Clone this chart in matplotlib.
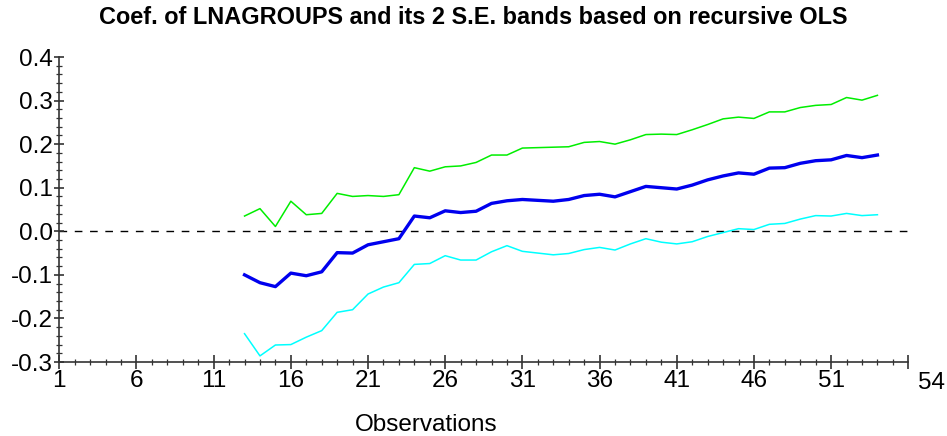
import matplotlib
matplotlib.use("Agg")
import matplotlib.pyplot as plt
from matplotlib.ticker import FixedLocator, MultipleLocator

plt.rcParams['font.family'] = ['Liberation Sans', 'DejaVu Sans']

# Recursive OLS estimates of the LNAGROUPS coefficient, observations 13..54
obs = list(range(13, 55))
coef = [-0.100, -0.118, -0.127, -0.096, -0.102, -0.093, -0.049, -0.050, -0.031, -0.024,
        -0.017, 0.035, 0.031, 0.047, 0.043, 0.046, 0.064, 0.070, 0.073, 0.071,
        0.069, 0.073, 0.082, 0.085, 0.079, 0.091, 0.103, 0.100, 0.097, 0.106,
        0.118, 0.127, 0.134, 0.131, 0.145, 0.146, 0.156, 0.162, 0.164, 0.174,
        0.169, 0.175]
upper = [0.035, 0.052, 0.011, 0.069, 0.038, 0.041, 0.087, 0.080, 0.082, 0.080,
         0.084, 0.146, 0.138, 0.148, 0.150, 0.158, 0.175, 0.175, 0.191, 0.192,
         0.193, 0.194, 0.204, 0.206, 0.200, 0.210, 0.222, 0.223, 0.222, 0.233,
         0.245, 0.258, 0.262, 0.259, 0.274, 0.274, 0.284, 0.289, 0.291, 0.307,
         0.301, 0.312]
lower = [-0.235, -0.286, -0.261, -0.260, -0.243, -0.228, -0.186, -0.180, -0.144, -0.128,
         -0.118, -0.076, -0.074, -0.056, -0.066, -0.066, -0.047, -0.033, -0.046, -0.050,
         -0.054, -0.051, -0.042, -0.037, -0.043, -0.029, -0.017, -0.025, -0.029, -0.024,
         -0.012, -0.003, 0.006, 0.004, 0.016, 0.018, 0.028, 0.036, 0.035, 0.041,
         0.036, 0.038]

x_ticks = [1, 6, 11, 16, 21, 26, 31, 36, 41, 46, 51]
x_end = 56
x_end_label = "54"
y_ticks = [-0.3, -0.2, -0.1, 0.0, 0.1, 0.2, 0.3, 0.4]

fig = plt.figure(figsize=(9.47, 4.36), dpi=100)
ax = fig.add_axes([59.3 / 947, 1 - 362 / 436, 849 / 947, 305 / 436])

ax.axhline(0.0, color='black', lw=1.0, ls=(0, (5.5, 5.5)), zorder=1)
ax.plot(obs, upper, color='#00ee00', lw=1.1, zorder=2)
ax.plot(obs, lower, color='#00ffff', lw=1.1, zorder=2)
ax.plot(obs, coef, color='#0000ee', lw=2.4, zorder=3)

ax.set_xlim(1, x_end)
ax.set_ylim(-0.3, 0.4)

for side in ('top', 'right'):
    ax.spines[side].set_visible(False)
for side in ('left', 'bottom'):
    ax.spines[side].set_color('#333333')
    ax.spines[side].set_linewidth(1.2)

ax.xaxis.set_major_locator(FixedLocator(x_ticks + [x_end]))
ax.set_xticklabels([str(t) for t in x_ticks] + [""])
ax.xaxis.set_minor_locator(MultipleLocator(1))
ax.yaxis.set_major_locator(FixedLocator(y_ticks))
ax.set_yticklabels([f"{t:.1f}" for t in y_ticks])
ax.yaxis.set_minor_locator(MultipleLocator(0.02))

ax.tick_params(axis='x', which='major', direction='inout', length=10, width=1.2,
               color='#333333', labelsize=17.5, pad=1)
ax.tick_params(axis='x', which='minor', direction='inout', length=4.5, width=0.9,
               color='#333333')
ax.tick_params(axis='y', which='major', direction='inout', length=7, width=1.2,
               color='#333333', labelsize=17.5, pad=1)
ax.tick_params(axis='y', which='minor', direction='inout', length=4.5, width=0.9,
               color='#333333')

# last observation label sits just past the end of the x axis
ax.annotate(x_end_label, xy=(x_end, -0.3), xycoords='data',
            xytext=(7, -7.5), textcoords='offset points',
            fontsize=17.5, ha='left', va='top', annotation_clip=False)

fig.text(426 / 947, 1 - 425 / 436, "Observations", fontsize=17.5, ha='center', va='center')
fig.text(0.5, 1 - 17.5 / 436,
         "Coef. of LNAGROUPS and its 2 S.E. bands based on recursive OLS",
         fontsize=16.9, fontweight='bold', ha='center', va='center')

fig.savefig("out.png", dpi=100)
